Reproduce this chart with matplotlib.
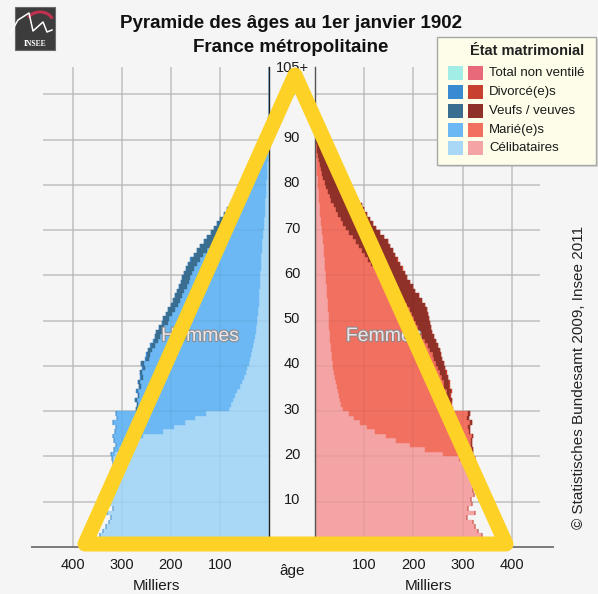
import numpy as np
import matplotlib.pyplot as plt
from matplotlib.patches import Rectangle, Polygon, Arc
import matplotlib.patheffects as pe

plt.rcParams['font.family'] = ['Liberation Sans', 'DejaVu Sans']

# effectifs en milliers, âge 0 à 105+
ages = np.arange(106)

hommes_celib = [
    340, 336, 344, 338, 332, 327, 322, 330, 318, 326,
    322, 320, 318, 321, 319, 317, 318, 316, 317, 318,
    314, 305, 294, 282, 256, 216, 194, 172, 150, 128,
    82, 77, 74, 69, 65, 60, 56, 51, 47, 44,
    41, 38, 36, 34, 32, 30, 29, 27, 26, 25,
    24, 23, 22, 21, 20.5, 20, 19.5, 19, 18.5, 18,
    17.5, 17, 16.5, 16, 15.5, 15, 14, 13.5, 12.5, 12,
    11, 10.5, 10, 9, 8.5, 8, 7.5, 7, 6.5, 6,
    5.5, 5, 4.5, 4, 3.4, 2.8, 2.2, 1.7, 1.3, 0.9,
    0.6, 0.4, 0.3, 0.2, 0.13, 0.09, 0.06, 0.04, 0.03, 0.02,
    0.01, 0, 0, 0, 0, 0]
hommes_maries = [
    0, 0, 0, 0, 0, 0, 0, 0, 0, 0,
    0, 0, 0, 0, 0, 0, 0, 0, 0.5, 1.5,
    8, 11, 18, 33, 61, 97, 117, 145, 159, 183,
    187, 190, 196, 195, 201, 201, 207, 206, 211, 208,
    214, 207, 206, 204, 201, 196, 193, 192, 187, 181,
    179, 174, 170, 165, 161, 157, 153, 149, 145, 142,
    139, 135, 131, 125, 118, 112, 105, 98, 91, 84,
    78, 72, 66, 60, 55, 50, 45, 40, 36, 32,
    28, 24, 20, 17, 13.6, 11, 8.5, 6.4, 4.6, 3.1,
    2.1, 1.4, 0.9, 0.6, 0.4, 0.26, 0.16, 0.11, 0.07, 0.05,
    0.03, 0.02, 0.01, 0.005, 0, 0]
hommes_veufs = [
    0, 0, 0, 0, 0, 0, 0, 0, 0, 0,
    0, 0, 0, 0, 0, 0, 0, 0, 0, 0,
    0, 0.1, 0.1, 0.2, 0.3, 0.5, 0.6, 0.8, 1, 1.5,
    2, 2.5, 3, 3.3, 3.6, 4, 4.4, 4.8, 5.3, 5.7,
    6.3, 6.6, 7.2, 7.7, 8.3, 9, 9.5, 10.5, 11, 11.6,
    12.5, 13, 13.6, 14, 14.5, 14.7, 15.2, 15.7, 16.2, 16.8,
    17.3, 17.8, 18.3, 18.8, 19.3, 19.8, 20.8, 21.3, 22.3, 22.8,
    22.8, 23.3, 22.9, 22.9, 22.4, 21.9, 21.4, 20.9, 20.4, 19.9,
    19.4, 18, 16.5, 15, 13, 11.2, 9.3, 7.4, 5.6, 4,
    2.8, 2, 1.4, 1, 0.67, 0.45, 0.28, 0.2, 0.12, 0.08,
    0.06, 0.04, 0.02, 0.01, 0.01, 0.01]
hommes_divorces = [
    0, 0, 0, 0, 0, 0, 0, 0, 0, 0,
    0, 0, 0, 0, 0, 0, 0, 0, 0, 0,
    0, 0, 0, 0, 0, 0.05, 0.1, 0.15, 0.2, 0.3,
    0.4, 0.4, 0.5, 0.5, 0.5, 0.5, 0.5, 0.5, 0.5, 0.5,
    0.5, 0.5, 0.5, 0.5, 0.5, 0.5, 0.5, 0.5, 0.4, 0.4,
    0.4, 0.4, 0.4, 0.3, 0.3, 0.3, 0.3, 0.3, 0.3, 0.2,
    0.2, 0.2, 0.2, 0.2, 0.2, 0.2, 0.2, 0.2, 0.2, 0.2,
    0.2, 0.2, 0.1, 0.1, 0.1, 0.1, 0.1, 0.1, 0.1, 0.1,
    0, 0, 0, 0, 0, 0, 0, 0, 0, 0,
    0, 0, 0, 0, 0, 0, 0, 0, 0, 0,
    0, 0, 0, 0, 0, 0]

femmes_celib = [
    338, 330, 340, 332, 326, 322, 310, 326, 312, 320,
    318, 324, 322, 325, 323, 324, 321, 316, 305, 292,
    260, 224, 194, 165, 145, 122, 106, 92, 80, 70,
    56, 53, 50, 48, 46, 44, 42, 40.5, 39, 37.5,
    36, 35, 34, 33, 32, 31, 30, 29.5, 29, 28.5,
    28, 27.5, 27, 26.5, 26, 25, 24.5, 24, 23, 22.5,
    22, 21, 20.5, 20, 19, 18.5, 17.5, 17, 16, 15,
    14, 13, 12, 11, 10.5, 10, 9, 8.5, 7.5, 7,
    6, 5.5, 5, 4.5, 4, 3.5, 3, 2.4, 1.9, 1.5,
    1.1, 0.8, 0.6, 0.45, 0.32, 0.23, 0.16, 0.12, 0.08, 0.06,
    0.04, 0.02, 0.01, 0, 0, 0]
femmes_mariees = [
    0, 0, 0, 0, 0, 0, 0, 0, 0, 0,
    0, 0, 0, 0, 0, 0.3, 3, 8, 17, 33,
    60, 96, 124, 152, 174, 191, 206, 224, 229, 241,
    218, 218, 222, 219, 222, 219, 220, 217, 215, 212,
    210.5, 207, 205, 201.5, 197, 192.5, 188, 183, 179.5, 176.5,
    173.5, 170, 166.5, 161, 153, 144.5, 135.5, 128.5, 120.5, 113,
    106, 100, 94, 88, 82, 77, 72, 67, 61, 55,
    49, 44, 40, 36, 32, 28, 24, 21, 18, 15.5,
    13.5, 11, 9, 7.5, 6, 4.8, 3.1, 2.4, 1.8, 1.3,
    0.9, 0.6, 0.4, 0.28, 0.18, 0.12, 0.08, 0.05, 0.03, 0.02,
    0.01, 0.01, 0, 0, 0, 0]
femmes_veuves = [
    0, 0, 0, 0, 0, 0, 0, 0, 0, 0,
    0, 0, 0, 0, 0, 0, 0, 0, 0, 0.2,
    0.4, 0.7, 1, 1.4, 1.8, 2.2, 2.6, 3, 3.5, 4,
    5.4, 6.2, 7, 8, 9, 10, 11.2, 12.3, 13.4, 14.7,
    15, 16.3, 17.6, 19, 20.5, 22, 23.6, 25.2, 26.8, 28.4,
    30, 32, 34, 36, 38.5, 41, 43.5, 46, 49, 52,
    54.5, 56.6, 58.2, 59.7, 61.7, 62.2, 63.2, 63.7, 63.8, 62.8,
    61.8, 60.8, 59.8, 58.8, 57.3, 56.8, 54.8, 51.4, 48.4, 44.4,
    41.4, 38.5, 35, 32, 29, 25.7, 21.9, 18.2, 14.3, 11.2,
    8, 6.1, 4.5, 3.27, 2.3, 1.65, 1.16, 0.83, 0.59, 0.42,
    0.25, 0.15, 0.09, 0.05, 0.03, 0.05]
femmes_divorcees = [
    0, 0, 0, 0, 0, 0, 0, 0, 0, 0,
    0, 0, 0, 0, 0, 0, 0, 0, 0, 0,
    0, 0, 0, 0, 0, 0.3, 0.4, 0.4, 0.5, 0.5,
    0.6, 0.6, 0.6, 0.6, 0.6, 0.6, 0.6, 0.6, 0.6, 0.6,
    0.6, 0.6, 0.6, 0.6, 0.5, 0.5, 0.5, 0.5, 0.5, 0.5,
    0.5, 0.5, 0.5, 0.5, 0.5, 0.5, 0.4, 0.4, 0.4, 0.4,
    0.4, 0.4, 0.3, 0.3, 0.3, 0.3, 0.3, 0.3, 0.2, 0.2,
    0.2, 0.2, 0.2, 0.2, 0.2, 0.2, 0.2, 0.1, 0.1, 0.1,
    0, 0, 0, 0, 0, 0, 0, 0, 0, 0,
    0, 0, 0, 0, 0, 0, 0, 0, 0, 0,
    0, 0, 0, 0, 0, 0]

statuts = ['Célibataires', 'Marié(e)s', 'Veufs / veuves', 'Divorcé(e)s', 'Total non ventilé']
couleurs_h = ['#a9d8f7', '#6cb8f4', '#3a6e90', '#3a8ad2', '#a2eee6']
couleurs_f = ['#f4a4a4', '#f2705f', '#8f3128', '#c8412f', '#e8697a']
x_ticks = [100, 200, 300, 400]
age_ticks = [10, 20, 30, 40, 50, 60, 70, 80, 90, 100]

W, H = 598, 594
fig = plt.figure(figsize=(W / 100, H / 100), dpi=100)
fig.patch.set_facecolor('#f5f5f5')


def px_axes(x0, y0, x1, y1):
    return fig.add_axes([x0 / W, 1 - y1 / H, (x1 - x0) / W, (y1 - y0) / H])


y_bas = 547
y_haut = y_bas - 106 * 4.527
axL = px_axes(32, y_haut, 269, y_bas)
axR = px_axes(315, y_haut, 553, y_bas)
axL.set_xlim(483, 0)
axR.set_xlim(0, 484)

grid_col = '#c9c9c9'
for ax, series, cols, gmax in [
        (axL, [hommes_celib, hommes_maries, hommes_veufs, hommes_divorces], couleurs_h, 460),
        (axR, [femmes_celib, femmes_mariees, femmes_veuves, femmes_divorcees], couleurs_f, 457)]:
    ax.set_facecolor('none')
    ax.set_ylim(0, 106)
    ax.hlines(age_ticks, 0, gmax, color=grid_col, lw=1.1, zorder=0)
    ax.vlines(x_ticks, 0, 106, color=grid_col, lw=1.1, zorder=0)
    left = np.zeros(len(ages))
    for vals, c in zip(series, cols):
        vals = np.array(vals, dtype=float)
        ax.barh(ages, vals, left=left, height=1, align='edge', color=c,
                edgecolor=c, linewidth=0.3, zorder=2)
        left += vals
    # grille très pâle par-dessus les barres
    ax.hlines(age_ticks, 0, gmax, color='black', alpha=0.04, lw=1.1, zorder=3)
    ax.vlines(x_ticks, 0, 106, color='black', alpha=0.04, lw=1.1, zorder=3)
    for s in ax.spines.values():
        s.set_visible(False)
    ax.spines['bottom'].set_visible(True)
    ax.spines['bottom'].set_color('#7a7a7a')
    ax.spines['bottom'].set_linewidth(1.4)
    ax.set_yticks([])
    ax.set_xticks(x_ticks)
    ax.set_xticklabels([str(v) for v in x_ticks])
    ax.tick_params(axis='x', length=0, pad=8, labelsize=10.5, colors='#1a1a1a')
    ax.text(230, -8.6, 'Milliers', ha='center', va='center', fontsize=11, color='#1a1a1a')

axL.spines['right'].set_visible(True)
axL.spines['right'].set_color('#222222')
axL.spines['right'].set_linewidth(1.0)
axR.spines['left'].set_visible(True)
axR.spines['left'].set_color('#555555')
axR.spines['left'].set_linewidth(1.0)

lab_fx = [pe.withStroke(linewidth=1.6, foreground='#8a8a8a')]
axL.text(140, 46.5, 'Hommes', ha='center', va='center', fontsize=14, color='#f6eef2',
         alpha=0.9, zorder=5, path_effects=lab_fx)
axR.text(140, 46.5, 'Femmes', ha='center', va='center', fontsize=14, color='#f6eef2',
         alpha=0.9, zorder=5, path_effects=lab_fx)

# calque en coordonnées pixels pour le décor
ov = fig.add_axes([0, 0, 1, 1])
ov.set_xlim(0, W)
ov.set_ylim(H, 0)
ov.axis('off')
ov.set_zorder(10)
ov.patch.set_visible(False)


def y_age(a):
    return y_bas - a * 4.527


for a in age_ticks:
    ov.text(292, y_age(a) - 1.5, str(a), ha='center', va='center', fontsize=10.5, color='#1a1a1a')
ov.text(292, y_age(105.8), '105+', ha='center', va='center', fontsize=10.5, color='#1a1a1a')
ov.text(292, 571, 'âge', ha='center', va='center', fontsize=11, color='#1a1a1a')

ov.text(291, 24, 'Pyramide des âges au 1er janvier 1902', ha='center', va='center',
        fontsize=13.5, fontweight='bold', color='#111111')
ov.text(291, 47, 'France métropolitaine', ha='center', va='center',
        fontsize=13.5, fontweight='bold', color='#111111')

ov.text(579, 377, '© Statistisches Bundesamt 2009, Insee 2011', rotation=90,
        ha='center', va='center', fontsize=11, color='#222222')

# légende
ov.add_patch(Rectangle((439, 39), 159, 128, facecolor='#bdbdbd', edgecolor='none', alpha=0.5))
ov.add_patch(Rectangle((437, 37), 159, 128, facecolor='#fdfde9', edgecolor='#a8a8a8', lw=1))
ov.text(527, 51, 'État matrimonial', ha='center', va='center', fontsize=10.5,
        fontweight='bold', color='#222222')
rows_y = [73, 92, 111, 130, 148]
for i, y in enumerate(rows_y):
    k = len(statuts) - 1 - i
    ov.add_patch(Rectangle((448, y - 7), 15, 14, facecolor=couleurs_h[k], edgecolor='none'))
    ov.add_patch(Rectangle((468, y - 7), 15, 14, facecolor=couleurs_f[k], edgecolor='none'))
    ov.text(489, y, statuts[k], ha='left', va='center', fontsize=9.5, color='#1a1a1a')

# logo Insee
ov.add_patch(Rectangle((15, 7), 40, 43, facecolor='#3c3c3c', edgecolor='#6a6a6a', lw=0.8))
ov.add_patch(Arc((40, 22), 26, 20, theta1=200, theta2=345, color='#c0304f', lw=2.2))
ov.plot([10, 18, 29, 33, 43, 47, 52], [34, 20, 13, 31, 22, 32, 30], color='white', lw=1.1,
        solid_joinstyle='round')
ov.text(35, 44.5, 'INSEE', ha='center', va='center', fontsize=5.5, color='white',
        family='Liberation Serif', fontweight='bold')

# triangle jaune
ov.add_patch(Polygon([(85, 544), (295, 75), (506, 544)], closed=True, fill=False,
                     edgecolor='#fdd125', lw=10.8, joinstyle='round', zorder=20))

fig.savefig('out.png', dpi=100, facecolor=fig.get_facecolor())
